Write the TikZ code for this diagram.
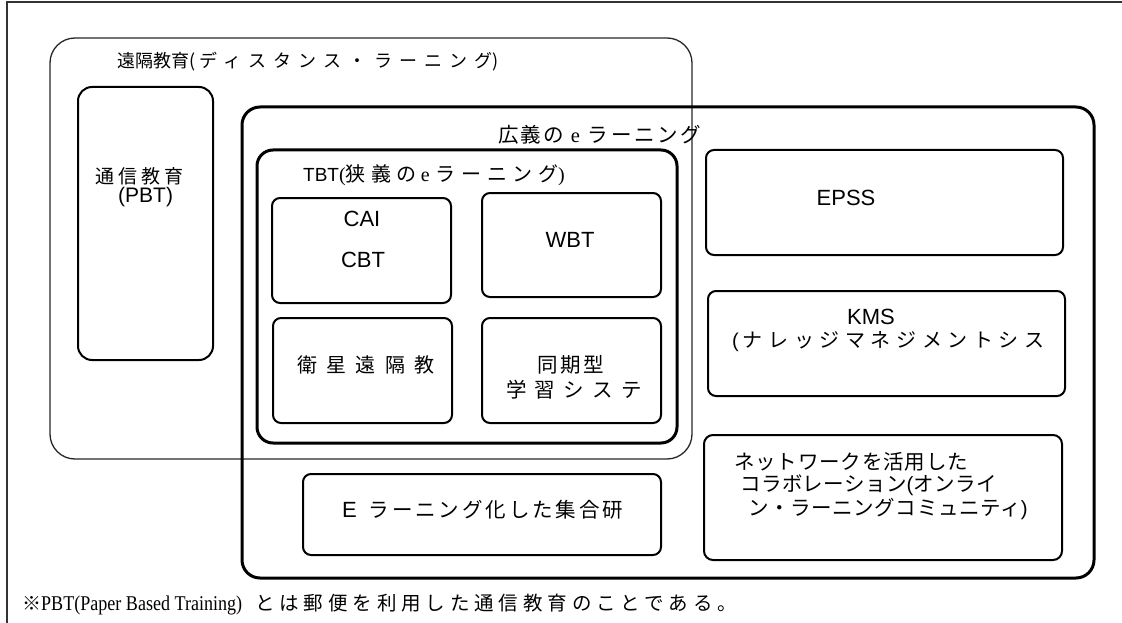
\documentclass[tikz,border=0pt]{standalone}
\usepackage{fontspec}
\setmainfont{Liberation Serif}
\newfontfamily\jp{Noto Sans CJK JP}
\newfontfamily\lsans{Liberation Sans}
\newfontfamily\nserif[FakeStretch=0.86]{Liberation Serif}
\newcommand\fs[1]{\fontsize{#1}{#1}\selectfont}
\newcommand\ls[1]{\addfontfeatures{LetterSpace=#1}}
\begin{document}
\begin{tikzpicture}[x=1pt,y=-1pt,
  box/.style={draw, rounded corners=8pt, line width=2pt, inner sep=0pt},
  thickbox/.style={draw, line width=3pt, inner sep=0pt},
  thinbox/.style={draw=black!85, line width=1.3pt, inner sep=0pt, rounded corners=25pt},
  frame/.style={draw=black!80, line width=1.4pt},
  lbl/.style={inner sep=0pt, anchor=west, text=black},
  clbl/.style={inner sep=0pt, anchor=center, text=black}]
\useasboundingbox (0,0) rectangle (1122,623);
% outer frame
\coordinate (fbl) at (7,623);
\coordinate (ftl) at (7,2);
\coordinate (ftr) at (1122,2);
\draw[frame] (fbl) -- (ftl) -- (ftr);
% boxes
\node[thinbox, minimum width=642pt, minimum height=421pt] (dist) at (371,248.5) {};
\node[box, rounded corners=14pt, minimum width=135pt, minimum height=273pt] (pbt) at (145.5,223.5) {};
\node[thickbox, rounded corners=18pt, minimum width=852pt, minimum height=471pt] (wide) at (668,342.5) {};
\node[thickbox, rounded corners=16pt, minimum width=420pt, minimum height=293pt] (tbt) at (467,296.5) {};
\node[box, minimum width=179pt, minimum height=105pt] (cai) at (361.5,250.5) {};
\node[box, minimum width=179pt, minimum height=104pt] (wbt) at (571.5,245) {};
\node[box, minimum width=179pt, minimum height=105pt] (sat) at (362.5,370.5) {};
\node[box, minimum width=179pt, minimum height=105pt] (sync) at (571.5,370.5) {};
\node[box, minimum width=357pt, minimum height=105pt] (epss) at (884.5,202.5) {};
\node[box, minimum width=357pt, minimum height=105pt] (kms) at (886.5,343.5) {};
\node[box, rounded corners=9pt, minimum width=358pt, minimum height=125pt] (net) at (883,497.5) {};
\node[box, minimum width=358pt, minimum height=81pt] (eln) at (482,514.5) {};
% labels
\node[lbl] (tdist) at (117,62) {\jp\fs{18}遠隔教育(\hspace{4pt}{\ls{40}ディスタンス・ラーニング})};
\node[lbl] (tpbt1) at (95,176) {\jp\fs{19}\ls{22}通信教育};
\node[lbl] (tpbt2) at (118,197) {\lsans\fs{21}(PBT)};
\node[lbl] (twide) at (498,135) {\fs{20.5}{\jp\ls{10}広義の}\hspace{7pt}e\hspace{8pt}{\jp\ls{13}ラーニング}};
\node[lbl] (ttbt) at (303,175) {{\lsans\fs{19}TBT}\fs{20}(\jp\ls{28}狭義の\hspace{4pt}{\rmfamily\fs{20}e}\hspace{6pt}ラーニング{\rmfamily )}};
\node[clbl] (tcai) at (362,219) {\lsans\fs{22}CAI};
\node[clbl] (tcbt) at (363,260) {\lsans\fs{22}CBT};
\node[clbl] (twbt) at (570,240) {\lsans\fs{22}WBT};
\node[clbl] (tepss) at (846,198) {\lsans\fs{22}EPSS};
\node[lbl] (tsat) at (297,365) {\jp\fs{20}\ls{47}衛星遠隔教};
\node[lbl] (tsync1) at (537,365) {\jp\fs{20.5}\ls{14}同期型};
\node[lbl] (tsync2) at (506,390) {\jp\fs{20.5}\ls{40}学習システ};
\node[clbl] (tkms1) at (871,317) {\lsans\fs{22}KMS};
\node[lbl] (tkms2) at (732,342) {\fs{20}{\lsans(}\hspace{4pt}{\jp\ls{28}ナレッジマネジメントシス}};
\node[lbl] (tnet1) at (734,462) {\jp\fs{20.5}\ls{4}ネットワークを活用した};
\node[lbl] (tnet2) at (740,485) {\jp\fs{20.5}\ls{2}コラボレーション{\lsans(}オンライ};
\node[lbl] (tnet3) at (748,509) {\jp\fs{20.5}\ls{3}ン・ラーニングコミュニティ{\lsans)}};
\node[lbl] (teln) at (342,510) {{\lsans\fs{22}E}\hspace{12pt}{\jp\fs{20.5}\ls{14}ラーニング化した集合研}};
\node[lbl] (tfoot) at (22,605) {{\jp\fs{19}※}{\nserif\fs{21}PBT(Paper Based Training)}\hspace{13pt}{\jp\fs{19.5}\ls{25}とは郵便を利用した通信教育のことである。}};
\end{tikzpicture}
\end{document}
